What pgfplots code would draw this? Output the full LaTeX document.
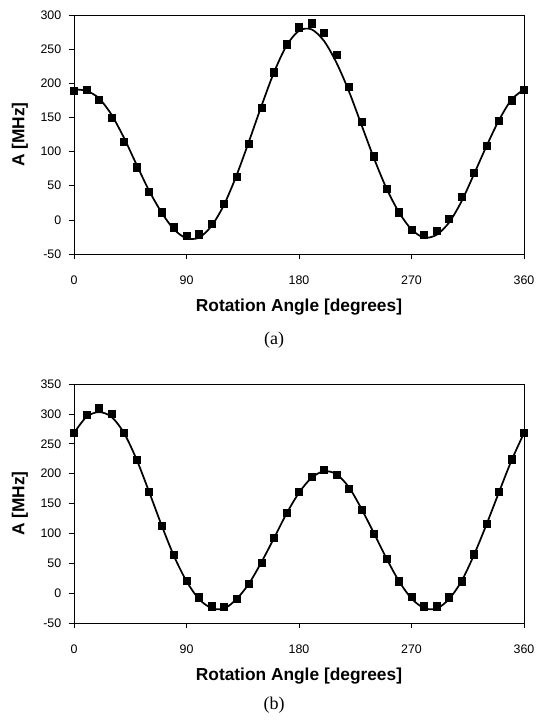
\documentclass[border=0pt]{standalone}
\usepackage{fontspec}
\setmainfont{Liberation Sans}
\newfontfamily\seriffont{Liberation Serif}
\usepackage{pgfplots}
\usepackage{pgfplotstable}
\pgfplotsset{compat=1.18}

% measured points, panel (a)
\pgfplotstableread{
ang A
0 189
10 191
20 176
30 149
40 114
50 77
60 41
70 11
80 -11
90 -23
100 -21
110 -6
120 23
130 63
140 112
150 164
160 216
170 257
180 282
190 288
200 274
210 242
220 195
230 144
240 93
250 46
260 11
270 -14
280 -22
290 -16
300 2
310 34
320 69
330 108
340 145
350 175
360 191
}\meas

% fitted curve, panel (a)
\pgfplotstableread{
ang A
0 191
10 189
20 178
30 154
40 120
50 81
60 43
70 11
80 -14
90 -27
100 -26
110 -9
120 22
130 65
140 115
150 167
160 216
170 255
180 277
190 279
200 262
210 230
220 188
230 139
240 90
250 46
260 11
270 -14
280 -26
290 -22
300 -4
310 27
320 67
330 108
340 146
350 176
360 191
}\fita

% measured points, panel (b)
\pgfplotstableread{
ang A
0 268
10 299
20 310
30 300
40 268
50 223
60 169
70 113
80 64
90 21
100 -7
110 -22
120 -23
130 -10
140 16
150 51
160 92
170 134
180 170
190 195
200 206
210 198
220 174
230 139
240 100
250 58
260 20
270 -6
280 -22
290 -22
300 -7
310 20
320 65
330 116
340 170
350 224
360 269
}\measb

% fitted curve, panel (b)
\pgfplotstableread{
ang A
0 268
10 295
20 303
30 295
40 268
50 224
60 170
70 114
80 62
90 20
100 -10
110 -25
120 -26
130 -10
140 16
150 52
160 92
170 133
180 168
190 193
200 204
210 199
220 177
230 141
240 100
250 58
260 20
270 -9
280 -25
290 -26
300 -10
310 20
320 64
330 115
340 169
350 222
360 268
}\fitb

\pgfplotsset{panel/.style={
  scale only axis, width=337.5pt, height=179.25pt,
  xmin=0, xmax=360, xtick={0,90,180,270,360},
  axis line style={line width=0.5pt},
  tick align=outside, xtick pos=bottom, ytick pos=left,
  major tick length=4pt,
  tick style={black, line width=0.5pt},
  ticklabel style={font=\fontsize{9.3}{11}\selectfont},
  /pgf/number format/assume math mode=true,
  label style={font=\fontsize{13}{15}\selectfont\bfseries},
  xlabel={Rotation Angle [degrees]},
  ylabel={A [MHz]},
  xlabel style={at={(axis description cs:0.5,-0.222)}, anchor=center},
  ylabel style={at={(axis description cs:-0.12,0.5)}, anchor=center},
  xticklabel style={yshift=-8.5pt},
  yticklabel style={xshift=-2pt},
}}

\begin{document}
\begin{tikzpicture}
\useasboundingbox (0,0) rectangle (402.75pt,545.25pt);

\begin{axis}[panel, at={(55.5pt,354.75pt)}, anchor=south west,
  ymin=-50, ymax=300, ytick={-50,0,...,300}]
\addplot[black, line width=1.3pt, smooth] table[x=ang, y=A] {\fita};
\addplot[only marks, mark=square*, mark size=2.7pt, black] table[x=ang, y=A] {\meas};
\end{axis}
\node[font=\seriffont\fontsize{13.5}{15}\selectfont] at (205.5pt,290.25pt) {(a)};

\begin{axis}[panel, at={(55.5pt,78pt)}, anchor=south west,
  ymin=-50, ymax=350, ytick={-50,0,...,350}]
\addplot[black, line width=1.3pt, smooth] table[x=ang, y=A] {\fitb};
\addplot[only marks, mark=square*, mark size=2.7pt, black] table[x=ang, y=A] {\measb};
\end{axis}
\node[font=\seriffont\fontsize{13.5}{15}\selectfont] at (205.5pt,16.5pt) {(b)};
\end{tikzpicture}
\end{document}
